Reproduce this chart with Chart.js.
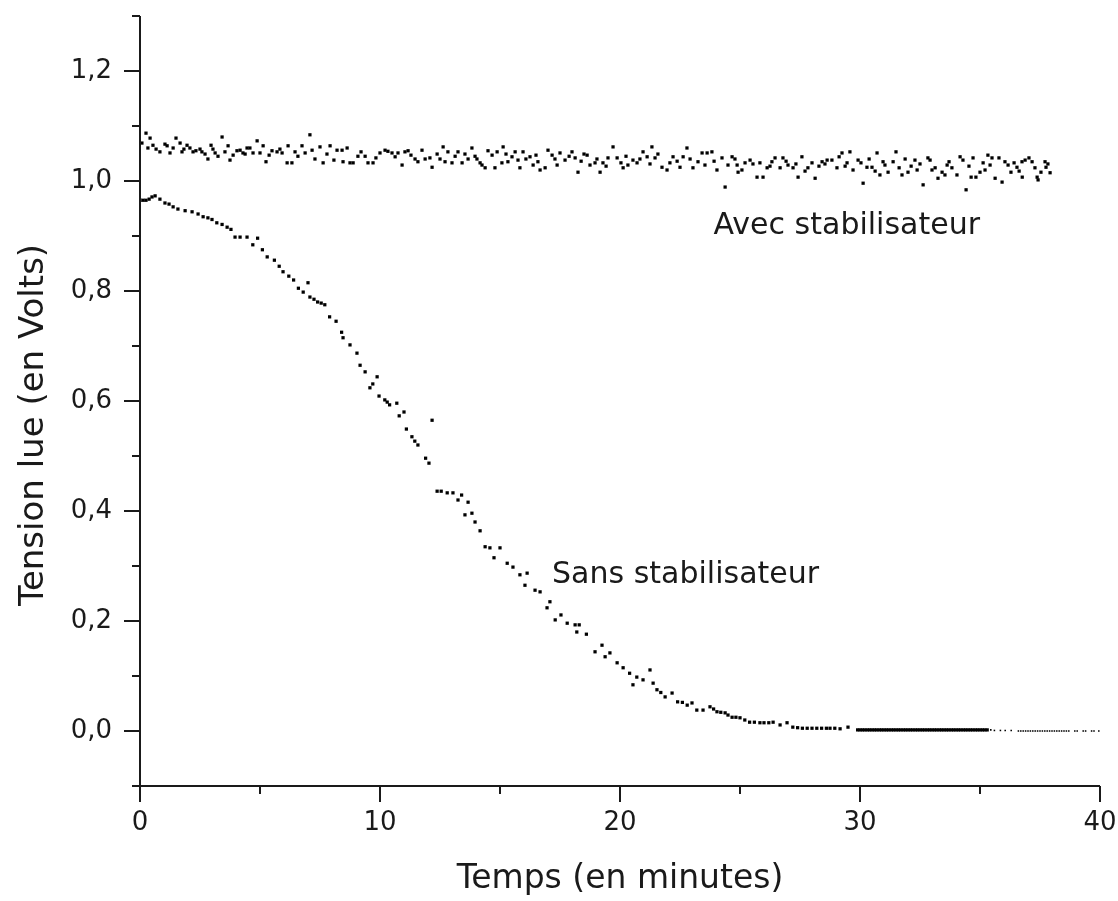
<!DOCTYPE html>
<html lang="fr">
<head>
<meta charset="utf-8">
<title>Tension lue</title>
<script src="https://cdn.jsdelivr.net/npm/chart.js@4.4.1/dist/chart.umd.min.js"></script>
<style>
  html, body { margin: 0; padding: 0; background: #fff; }
  #wrap { width: 1118px; height: 901px; }
</style>
</head>
<body>
<div id="wrap"><canvas id="graph" width="1118" height="901"></canvas></div>
<script>
// Données (temps en minutes, tension en volts)
const avecTemps = [
  0.08, 0.25, 0.42, 0.54, 0.83, 1.13, 1.25, 1.38, 1.50, 1.67,
  1.75, 1.96, 2.08, 2.21, 2.50, 2.58, 2.83, 2.96, 3.13, 3.25,
  3.42, 3.54, 3.67, 3.75, 4.04, 4.17, 4.29, 4.46, 4.58, 4.71,
  4.88, 5.00, 5.25, 5.50, 5.71, 5.92, 6.13, 6.17, 6.33, 6.46,
  6.75, 6.88, 7.08, 7.29, 7.50, 7.63, 7.92, 8.21, 8.42, 8.46,
  8.63, 8.75, 8.88, 9.08, 9.38, 9.50, 9.71, 10.00, 10.21, 10.33,
  10.50, 10.63, 10.92, 11.04, 11.17, 11.46, 11.75, 11.88, 12.08, 12.17,
  12.38, 12.63, 12.71, 12.83, 13.00, 13.25, 13.42, 13.67, 13.83, 13.96,
  14.17, 14.25, 14.38, 14.50, 14.79, 14.88, 15.08, 15.13, 15.33, 15.50,
  15.63, 15.83, 15.96, 16.25, 16.38, 16.58, 16.67, 16.88, 17.00, 17.17,
  17.50, 17.71, 18.00, 18.13, 18.25, 18.63, 18.75, 18.96, 19.17, 19.29,
  19.50, 19.71, 19.88, 20.13, 20.33, 20.54, 20.71, 20.96, 21.13, 21.33,
  21.46, 21.75, 21.96, 22.21, 22.50, 22.63, 22.79, 23.04, 23.25, 23.42,
  23.63, 23.83, 24.04, 24.25, 24.38, 24.50, 24.67, 24.88, 24.92, 25.21,
  25.42, 25.71, 25.96, 26.13, 26.33, 26.46, 26.67, 26.79, 27.00, 27.21,
  27.42, 27.58, 27.83, 28.00, 28.13, 28.42, 28.63, 28.83, 29.04, 29.25,
  29.46, 29.58, 29.71, 29.92, 30.13, 30.29, 30.50, 30.71, 30.83, 30.96,
  31.17, 31.38, 31.50, 31.75, 32.00, 32.29, 32.38, 32.63, 32.83, 33.00,
  33.25, 33.42, 33.63, 33.83, 34.04, 34.17, 34.29, 34.42, 34.63, 34.71,
  34.83, 35.00, 35.13, 35.33, 35.50, 35.63, 35.79, 35.92, 36.04, 36.17,
  36.29, 36.54, 36.75, 36.76, 36.88, 37.17, 37.38, 37.42, 37.71, 37.75,
  37.92,
  // points intercalés, repérés entre les précédents
  0.33, 0.67, 1.04, 1.83, 2.33, 2.71, 3.04, 3.88, 4.38, 5.13,
  5.38, 5.83, 6.58, 7.17, 7.79, 8.08, 9.21, 9.83, 10.75, 11.29,
  11.58, 12.50, 13.13, 13.54, 14.04, 14.67, 15.25, 15.75, 16.08, 16.50,
  17.29, 17.38, 17.88, 18.38, 18.50, 19.04, 19.42, 20.04, 20.25, 20.83,
  21.25, 21.58, 22.08, 22.38, 22.92, 23.54, 23.92, 24.79, 25.08, 25.54,
  25.83, 26.25, 26.92, 27.33, 27.71, 28.29, 28.54, 29.13, 29.38, 30.04,
  30.38, 30.63, 31.04, 31.63, 31.88, 32.13, 32.50, 32.92, 33.13, 33.54,
  33.71, 34.54, 35.21, 35.42, 36.42, 36.63, 37.04, 37.29, 37.54, 37.83
];
const avecTension = [
  1.069, 1.087, 1.078, 1.065, 1.053, 1.064, 1.051, 1.060, 1.078, 1.069,
  1.053, 1.065, 1.060, 1.053, 1.058, 1.053, 1.040, 1.065, 1.051, 1.045,
  1.080, 1.053, 1.064, 1.038, 1.055, 1.056, 1.051, 1.060, 1.060, 1.051,
  1.073, 1.051, 1.035, 1.055, 1.053, 1.051, 1.033, 1.064, 1.033, 1.053,
  1.064, 1.051, 1.084, 1.040, 1.062, 1.033, 1.064, 1.056, 1.056, 1.035,
  1.060, 1.033, 1.033, 1.045, 1.045, 1.033, 1.033, 1.051, 1.056, 1.054,
  1.051, 1.044, 1.029, 1.053, 1.055, 1.040, 1.056, 1.040, 1.042, 1.025,
  1.049, 1.062, 1.035, 1.053, 1.033, 1.053, 1.033, 1.040, 1.060, 1.045,
  1.033, 1.029, 1.024, 1.055, 1.024, 1.053, 1.033, 1.062, 1.035, 1.044,
  1.053, 1.024, 1.053, 1.044, 1.029, 1.035, 1.020, 1.024, 1.056, 1.047,
  1.051, 1.038, 1.053, 1.042, 1.016, 1.047, 1.029, 1.033, 1.016, 1.033,
  1.042, 1.062, 1.042, 1.024, 1.029, 1.038, 1.033, 1.053, 1.044, 1.062,
  1.042, 1.025, 1.020, 1.044, 1.025, 1.044, 1.060, 1.024, 1.035, 1.051,
  1.051, 1.053, 1.020, 1.042, 0.989, 1.029, 1.044, 1.029, 1.016, 1.033,
  1.038, 1.007, 1.007, 1.024, 1.035, 1.042, 1.024, 1.042, 1.029, 1.024,
  1.007, 1.044, 1.024, 1.033, 1.005, 1.035, 1.038, 1.038, 1.024, 1.051,
  1.033, 1.053, 1.020, 1.038, 0.996, 1.025, 1.025, 1.051, 1.011, 1.035,
  1.016, 1.035, 1.053, 1.011, 1.016, 1.038, 1.020, 0.993, 1.042, 1.020,
  1.005, 1.016, 1.029, 1.024, 1.011, 1.044, 1.038, 0.984, 1.007, 1.042,
  1.007, 1.016, 1.033, 1.047, 1.042, 1.005, 1.042, 0.998, 1.035, 1.029,
  1.016, 1.025, 1.035, 1.007, 1.038, 1.035, 1.007, 1.002, 1.035, 1.025,
  1.015,
  1.060, 1.058, 1.067, 1.058, 1.055, 1.049, 1.058, 1.047, 1.049, 1.064,
  1.047, 1.058, 1.045, 1.056, 1.049, 1.038, 1.053, 1.042, 1.051, 1.047,
  1.035, 1.040, 1.045, 1.049, 1.040, 1.047, 1.049, 1.038, 1.040, 1.047,
  1.040, 1.029, 1.045, 1.036, 1.049, 1.040, 1.027, 1.033, 1.045, 1.040,
  1.031, 1.049, 1.033, 1.036, 1.040, 1.029, 1.036, 1.040, 1.020, 1.031,
  1.033, 1.027, 1.036, 1.031, 1.018, 1.027, 1.031, 1.044, 1.027, 1.033,
  1.040, 1.018, 1.029, 1.024, 1.040, 1.027, 1.031, 1.038, 1.024, 1.011,
  1.035, 1.027, 1.020, 1.029, 1.033, 1.018, 1.042, 1.024, 1.016, 1.031
];

const sansTemps = [
  0.00, 0.13, 0.25, 0.38, 0.50, 0.63, 0.83, 1.04, 1.21, 1.38,
  1.58, 1.88, 2.17, 2.42, 2.63, 2.83, 3.00, 3.20, 3.42, 3.63,
  3.79, 3.96, 4.17, 4.46, 4.70, 4.90, 5.10, 5.30, 5.60, 5.80,
  5.96, 6.20, 6.40, 6.60, 6.80, 7.00, 7.08, 7.25, 7.40, 7.55,
  7.70, 7.90, 8.17, 8.40, 8.46, 8.75, 9.04, 9.17, 9.38, 9.58,
  9.70, 9.88, 9.96, 10.20, 10.30, 10.40, 10.70, 10.80, 11.00, 11.10,
  11.33, 11.45, 11.58, 11.90, 12.04, 12.17, 12.38, 12.55, 12.80, 13.04,
  13.25, 13.40, 13.54, 13.67, 13.83, 13.96, 14.17, 14.38, 14.58, 14.75,
  15.00, 15.30, 15.54, 15.83, 16.04, 16.13, 16.46, 16.67, 16.96, 17.08,
  17.30, 17.54, 17.80, 18.13, 18.20, 18.30, 18.60, 18.96, 19.25, 19.38,
  19.58, 19.88, 20.13, 20.40, 20.54, 20.70, 20.96, 21.25, 21.38, 21.54,
  21.70, 21.88, 22.17, 22.40, 22.60, 22.80, 23.00, 23.20, 23.46, 23.75,
  23.90, 24.04, 24.20, 24.38, 24.50, 24.67, 24.83, 25.00, 25.20, 25.40,
  25.60, 25.83, 26.00, 26.20, 26.38, 26.67, 26.96, 27.20, 27.40, 27.60,
  27.80, 28.00, 28.20, 28.40, 28.60, 28.75, 28.95, 29.17, 29.50, 29.90,
  30.0, 30.1, 30.2, 30.3, 30.4, 30.5, 30.6, 30.7, 30.8, 30.9,
  31.0, 31.1, 31.2, 31.3, 31.4, 31.5, 31.6, 31.7, 31.8, 31.9,
  32.0, 32.1, 32.2, 32.3, 32.4, 32.5, 32.6, 32.7, 32.8, 32.9,
  33.0, 33.1, 33.2, 33.3, 33.4, 33.5, 33.6, 33.7, 33.8, 33.9,
  34.0, 34.1, 34.2, 34.3, 34.4, 34.5, 34.6, 34.7, 34.8, 34.9,
  35.0, 35.1, 35.2, 35.3, 35.45, 35.6, 35.85, 36.05, 36.3, 36.6,
  36.7, 36.8, 36.9, 37.0, 37.1, 37.2, 37.3, 37.4, 37.5, 37.6,
  37.7, 37.8, 37.9, 38.0, 38.1, 38.2, 38.3, 38.4, 38.5, 38.6,
  38.7, 38.95, 39.05, 39.3, 39.4, 39.65, 39.75, 39.95
];
const sansTension = [
  0.965, 0.965, 0.965, 0.967, 0.971, 0.973, 0.967, 0.960, 0.958, 0.953,
  0.949, 0.946, 0.944, 0.940, 0.935, 0.933, 0.930, 0.924, 0.921, 0.916,
  0.912, 0.898, 0.898, 0.898, 0.884, 0.896, 0.875, 0.862, 0.856, 0.845,
  0.835, 0.827, 0.820, 0.805, 0.798, 0.815, 0.789, 0.785, 0.780, 0.778,
  0.775, 0.753, 0.745, 0.725, 0.715, 0.702, 0.687, 0.665, 0.653, 0.624,
  0.631, 0.644, 0.609, 0.602, 0.598, 0.593, 0.596, 0.573, 0.580, 0.549,
  0.535, 0.527, 0.520, 0.496, 0.487, 0.565, 0.436, 0.436, 0.433, 0.433,
  0.420, 0.429, 0.393, 0.416, 0.396, 0.380, 0.364, 0.335, 0.333, 0.315,
  0.333, 0.305, 0.298, 0.284, 0.265, 0.287, 0.256, 0.253, 0.224, 0.235,
  0.202, 0.211, 0.196, 0.193, 0.180, 0.193, 0.176, 0.144, 0.156, 0.135,
  0.142, 0.124, 0.115, 0.105, 0.084, 0.098, 0.093, 0.111, 0.087, 0.075,
  0.070, 0.062, 0.069, 0.053, 0.052, 0.047, 0.051, 0.038, 0.038, 0.044,
  0.040, 0.035, 0.034, 0.033, 0.029, 0.025, 0.025, 0.024, 0.020, 0.016,
  0.016, 0.015, 0.015, 0.015, 0.016, 0.011, 0.015, 0.007, 0.006, 0.005,
  0.005, 0.005, 0.005, 0.005, 0.005, 0.005, 0.005, 0.004, 0.007, 0.002,
  0.002, 0.002, 0.002, 0.002, 0.002, 0.002, 0.002, 0.002, 0.002, 0.002,
  0.002, 0.002, 0.002, 0.002, 0.002, 0.002, 0.002, 0.002, 0.002, 0.002,
  0.002, 0.002, 0.002, 0.002, 0.002, 0.002, 0.002, 0.002, 0.002, 0.002,
  0.002, 0.002, 0.002, 0.002, 0.002, 0.002, 0.002, 0.002, 0.002, 0.002,
  0.002, 0.002, 0.002, 0.002, 0.002, 0.002, 0.002, 0.002, 0.002, 0.002,
  0.002, 0.002, 0.002, 0.002, 0.002, 0.001, 0.001, 0.001, 0.001, 0.000,
  0.000, 0.000, 0.000, 0.000, 0.000, 0.000, 0.000, 0.000, 0.000, 0.000,
  0.000, 0.000, 0.000, 0.000, 0.000, 0.000, 0.000, 0.000, 0.000, 0.000,
  0.000, 0.000, 0.000, 0.000, 0.000, 0.000, 0.000, 0.000
];

const courbes = ["Avec stabilisateur", "Sans stabilisateur"];
const titreX = "Temps (en minutes)";
const titreY = "Tension lue (en Volts)";

const police = '"DejaVu Sans", Verdana, sans-serif';
const encre = "#1a1a1a";

function toPoints(xs, ys) {
  return xs.map((x, i) => ({ x: x, y: ys[i] }));
}

// Axes, graduations, titre vertical et étiquettes des courbes
const axesPlugin = {
  id: "axes",
  afterDraw(chart) {
    const ctx = chart.ctx;
    const xs = chart.scales.x;
    const ys = chart.scales.y;
    const area = chart.chartArea;

    ctx.save();
    ctx.strokeStyle = encre;
    ctx.lineWidth = 2;
    ctx.beginPath();
    ctx.moveTo(area.left, area.top);
    ctx.lineTo(area.left, area.bottom);
    ctx.lineTo(area.right, area.bottom);
    ctx.stroke();

    ctx.beginPath();
    xs.ticks.forEach(t => {
      const px = Math.round(xs.getPixelForValue(t.value));
      const len = t.value % 10 === 0 ? 16 : 8;
      ctx.moveTo(px, area.bottom);
      ctx.lineTo(px, area.bottom + len);
    });
    ys.ticks.forEach(t => {
      const py = Math.round(ys.getPixelForValue(t.value));
      const len = Math.round(t.value * 10) % 2 === 0 ? 16 : 8;
      ctx.moveTo(area.left, py);
      ctx.lineTo(area.left - len, py);
    });
    ctx.stroke();

    ctx.fillStyle = encre;
    ctx.font = "34px " + police;
    ctx.textAlign = "center";
    ctx.textBaseline = "middle";
    ctx.save();
    ctx.translate(34, 425);
    ctx.rotate(-Math.PI / 2);
    ctx.fillText(titreY, 0, 0);
    ctx.restore();

    ctx.font = "30px " + police;
    ctx.textAlign = "left";
    ctx.textBaseline = "alphabetic";
    ctx.fillText(courbes[0], xs.getPixelForValue(23.9), ys.getPixelForValue(0.904));
    ctx.fillText(courbes[1], xs.getPixelForValue(17.17), ys.getPixelForValue(0.269));
    ctx.restore();
  }
};

new Chart(document.getElementById("graph"), {
  type: "scatter",
  data: {
    datasets: [
      {
        label: courbes[0],
        data: toPoints(avecTemps, avecTension),
        pointStyle: "rect",
        pointRadius: 2.3,
        pointBorderWidth: 0,
        backgroundColor: "#000",
        borderColor: "#000"
      },
      {
        label: courbes[1],
        data: toPoints(sansTemps, sansTension),
        pointStyle: "rect",
        pointRadius: ctx => (ctx.raw && ctx.raw.x > 35.4 ? 1.1 : 2.3),
        pointBorderWidth: 0,
        backgroundColor: "#000",
        borderColor: "#000"
      }
    ]
  },
  options: {
    responsive: false,
    devicePixelRatio: 1,
    animation: false,
    events: [],
    layout: { padding: { top: 16, right: 18, left: 0, bottom: 0 } },
    plugins: {
      legend: { display: false },
      tooltip: { enabled: false }
    },
    scales: {
      x: {
        type: "linear",
        min: 0,
        max: 40,
        // graduations tracées par le plugin, la grille ne sert qu'à l'écart des étiquettes
        grid: { display: true, drawOnChartArea: false, drawTicks: true, tickLength: 22, color: "rgba(0,0,0,0)" },
        border: { display: false },
        ticks: {
          stepSize: 5,
          autoSkip: false,
          maxRotation: 0,
          padding: 0,
          color: encre,
          font: { family: police, size: 26 },
          callback: v => (v % 10 === 0 ? String(v) : "")
        },
        title: {
          display: true,
          text: titreX,
          color: encre,
          font: { family: police, size: 33 },
          padding: { top: 0, bottom: 2 }
        },
        afterFit: scale => { scale.height = 115; }
      },
      y: {
        type: "linear",
        min: -0.1,
        max: 1.3,
        grid: { display: true, drawOnChartArea: false, drawTicks: true, tickLength: 28, color: "rgba(0,0,0,0)" },
        border: { display: false },
        ticks: {
          stepSize: 0.1,
          autoSkip: false,
          padding: 0,
          color: encre,
          font: { family: police, size: 26 },
          callback: v => {
            const k = Math.round(v * 10);
            return k % 2 === 0 ? (k / 10).toFixed(1).replace(".", ",") : "";
          }
        },
        afterFit: scale => { scale.width = 140; }
      }
    }
  },
  plugins: [axesPlugin]
});
</script>
</body>
</html>
